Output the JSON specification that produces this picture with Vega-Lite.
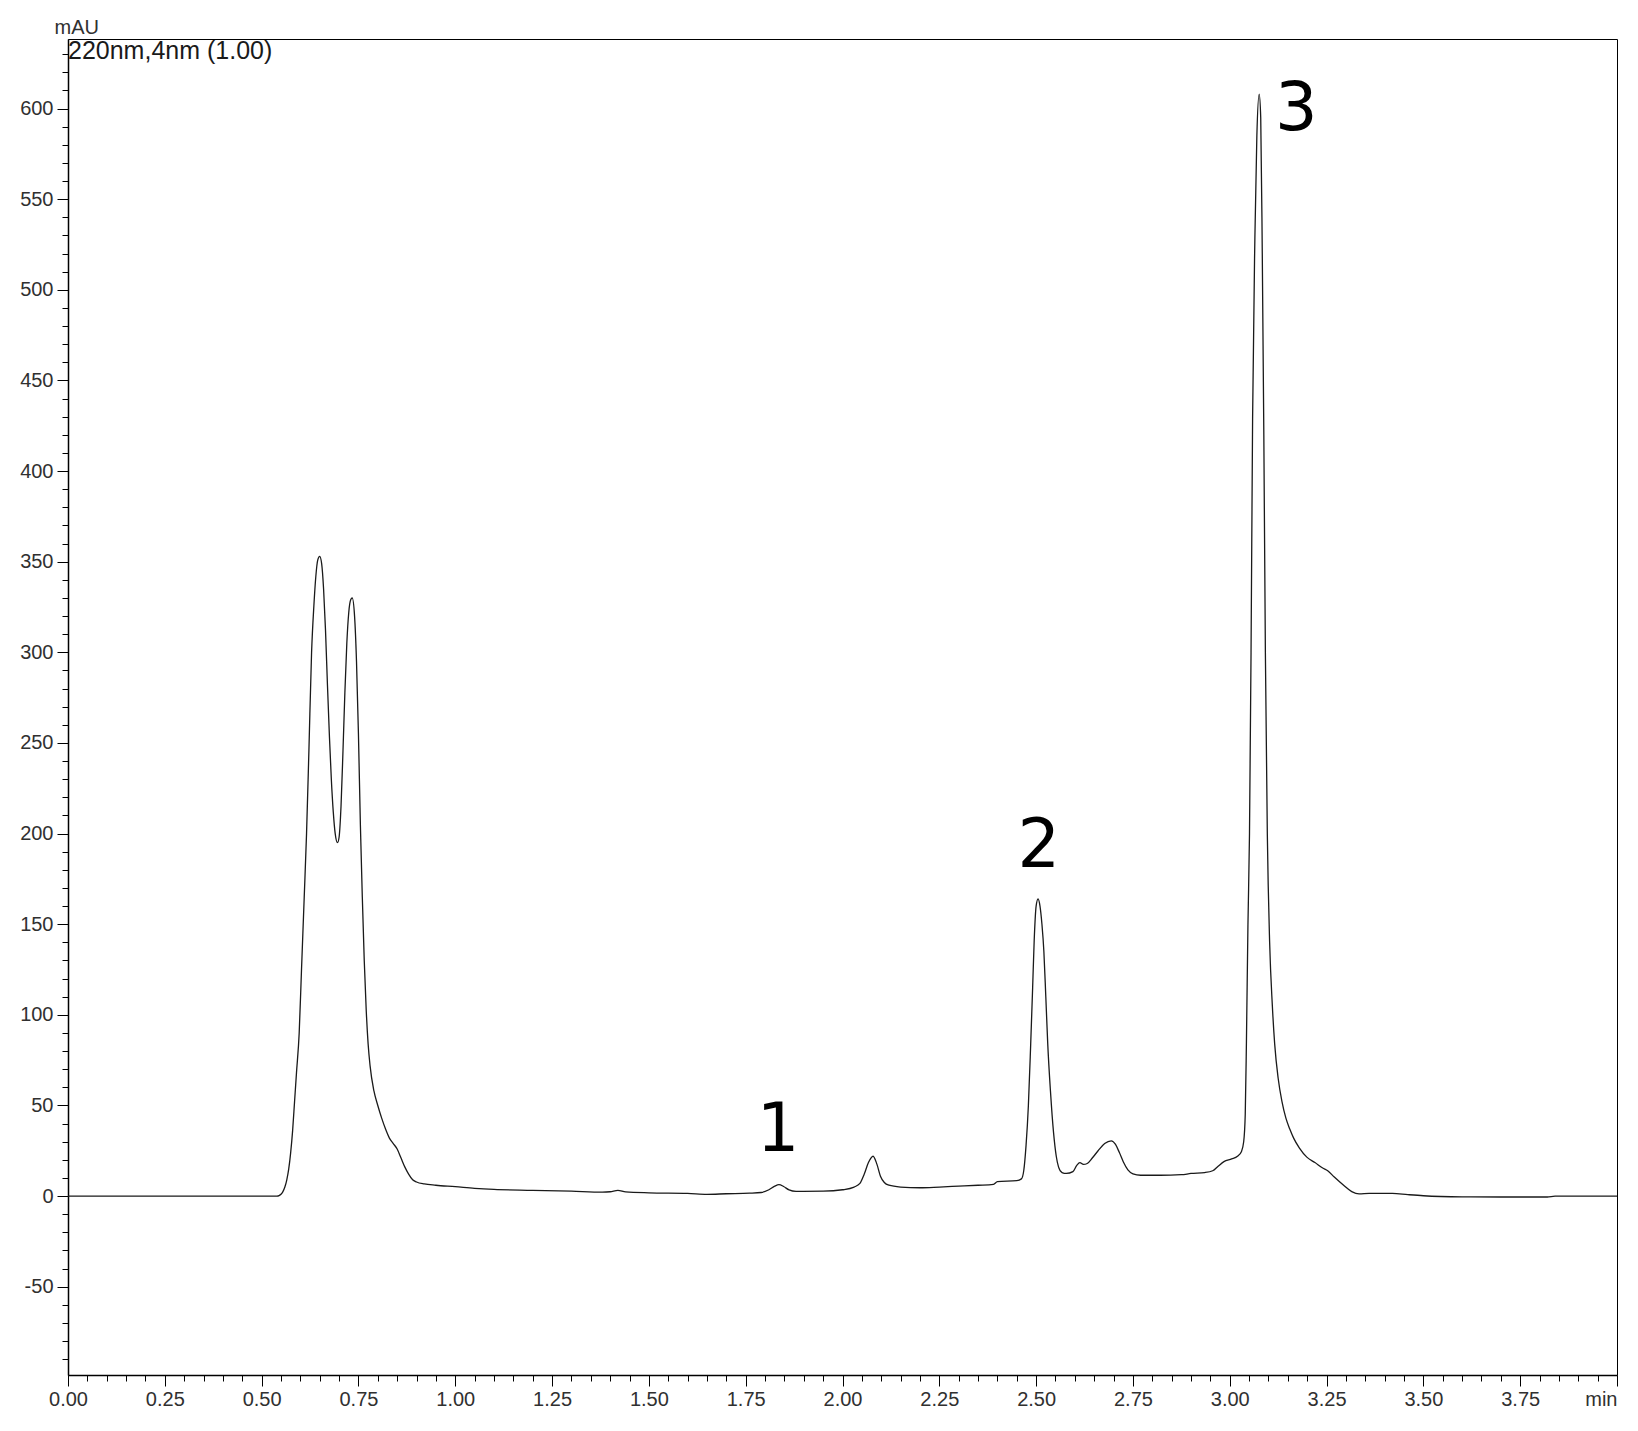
{
  "$schema": "https://vega.github.io/schema/vega-lite/v6.json",
  "width": 1549,
  "height": 1336,
  "autosize": {"type": "none"},
  "padding": {"left": 68, "top": 39, "right": 21, "bottom": 56},
  "background": "white",
  "config": {
    "view": {"stroke": "black", "strokeWidth": 1},
    "axis": {
      "grid": false,
      "domainColor": "black",
      "domainWidth": 1.5,
      "tickColor": "black",
      "tickWidth": 1,
      "labelFont": "Liberation Sans",
      "labelFontSize": 20,
      "labelColor": "#303030",
      "labelOverlap": false,
      "labelFlush": false,
      "titleFont": "Liberation Sans",
      "titleFontWeight": "normal",
      "titleFontSize": 20,
      "titleColor": "#303030"
    }
  },
  "datasets": {
    "trace": [
      {"t": 0, "y": 0}, {"t": 0.1, "y": 0}, {"t": 0.2, "y": 0}, {"t": 0.3, "y": 0}, {"t": 0.4, "y": 0}, {"t": 0.5, "y": 0}, {"t": 0.54, "y": 0},
      {"t": 0.545, "y": 0.3}, {"t": 0.55, "y": 1}, {"t": 0.555, "y": 2.5}, {"t": 0.56, "y": 5}, {"t": 0.565, "y": 9}, {"t": 0.57, "y": 15},
      {"t": 0.575, "y": 24}, {"t": 0.58, "y": 36}, {"t": 0.585, "y": 52}, {"t": 0.59, "y": 68}, {"t": 0.597, "y": 90}, {"t": 0.603, "y": 125},
      {"t": 0.61, "y": 165}, {"t": 0.616, "y": 200}, {"t": 0.622, "y": 245}, {"t": 0.629, "y": 300}, {"t": 0.635, "y": 326}, {"t": 0.64, "y": 342},
      {"t": 0.645, "y": 351}, {"t": 0.65, "y": 353}, {"t": 0.655, "y": 349}, {"t": 0.66, "y": 335}, {"t": 0.665, "y": 312}, {"t": 0.67, "y": 282},
      {"t": 0.675, "y": 254}, {"t": 0.68, "y": 230}, {"t": 0.685, "y": 212}, {"t": 0.69, "y": 200}, {"t": 0.696, "y": 195}, {"t": 0.70, "y": 198},
      {"t": 0.705, "y": 215}, {"t": 0.71, "y": 245}, {"t": 0.715, "y": 278}, {"t": 0.72, "y": 305}, {"t": 0.725, "y": 322}, {"t": 0.73, "y": 329},
      {"t": 0.734, "y": 330}, {"t": 0.74, "y": 320}, {"t": 0.745, "y": 295}, {"t": 0.75, "y": 255}, {"t": 0.755, "y": 205}, {"t": 0.76, "y": 165},
      {"t": 0.765, "y": 130}, {"t": 0.77, "y": 103}, {"t": 0.775, "y": 84}, {"t": 0.78, "y": 72}, {"t": 0.79, "y": 58}, {"t": 0.80, "y": 50},
      {"t": 0.81, "y": 43}, {"t": 0.82, "y": 37}, {"t": 0.83, "y": 32}, {"t": 0.84, "y": 29}, {"t": 0.85, "y": 26}, {"t": 0.86, "y": 21},
      {"t": 0.87, "y": 16}, {"t": 0.88, "y": 12}, {"t": 0.89, "y": 9}, {"t": 0.90, "y": 7.8}, {"t": 0.92, "y": 6.7}, {"t": 0.95, "y": 6},
      {"t": 1.00, "y": 5.2}, {"t": 1.05, "y": 4.3}, {"t": 1.10, "y": 3.7}, {"t": 1.20, "y": 3.2}, {"t": 1.30, "y": 2.7}, {"t": 1.38, "y": 2.2},
      {"t": 1.40, "y": 2.4}, {"t": 1.42, "y": 3.2}, {"t": 1.44, "y": 2.3}, {"t": 1.50, "y": 1.8}, {"t": 1.60, "y": 1.5}, {"t": 1.65, "y": 1},
      {"t": 1.70, "y": 1.3}, {"t": 1.76, "y": 1.6}, {"t": 1.79, "y": 2}, {"t": 1.81, "y": 3.5}, {"t": 1.825, "y": 5.5}, {"t": 1.836, "y": 6.3},
      {"t": 1.848, "y": 5.3}, {"t": 1.862, "y": 3.4}, {"t": 1.88, "y": 2.6}, {"t": 1.95, "y": 2.7}, {"t": 2.00, "y": 3.5}, {"t": 2.03, "y": 5},
      {"t": 2.045, "y": 7}, {"t": 2.056, "y": 12}, {"t": 2.067, "y": 18.5}, {"t": 2.079, "y": 22}, {"t": 2.089, "y": 17.5}, {"t": 2.098, "y": 11},
      {"t": 2.108, "y": 7.5}, {"t": 2.12, "y": 6}, {"t": 2.15, "y": 5}, {"t": 2.20, "y": 4.6}, {"t": 2.25, "y": 5}, {"t": 2.30, "y": 5.5},
      {"t": 2.35, "y": 6}, {"t": 2.39, "y": 6.5}, {"t": 2.40, "y": 8}, {"t": 2.45, "y": 8.5}, {"t": 2.462, "y": 9.5}, {"t": 2.468, "y": 14},
      {"t": 2.474, "y": 28}, {"t": 2.48, "y": 50}, {"t": 2.486, "y": 84}, {"t": 2.491, "y": 115}, {"t": 2.495, "y": 141}, {"t": 2.50, "y": 160},
      {"t": 2.505, "y": 164}, {"t": 2.51, "y": 160}, {"t": 2.515, "y": 150}, {"t": 2.52, "y": 135}, {"t": 2.525, "y": 110}, {"t": 2.53, "y": 84},
      {"t": 2.537, "y": 58}, {"t": 2.545, "y": 35}, {"t": 2.552, "y": 22}, {"t": 2.558, "y": 16}, {"t": 2.567, "y": 13}, {"t": 2.578, "y": 12.5},
      {"t": 2.595, "y": 13.5}, {"t": 2.605, "y": 17}, {"t": 2.613, "y": 18.5}, {"t": 2.622, "y": 17.5}, {"t": 2.632, "y": 18}, {"t": 2.645, "y": 21},
      {"t": 2.66, "y": 25}, {"t": 2.677, "y": 29}, {"t": 2.694, "y": 30.5}, {"t": 2.705, "y": 28.5}, {"t": 2.715, "y": 24}, {"t": 2.725, "y": 19},
      {"t": 2.737, "y": 14.5}, {"t": 2.75, "y": 12.3}, {"t": 2.77, "y": 11.5}, {"t": 2.82, "y": 11.5}, {"t": 2.875, "y": 11.8}, {"t": 2.90, "y": 12.5},
      {"t": 2.935, "y": 13}, {"t": 2.956, "y": 14}, {"t": 2.97, "y": 16.5}, {"t": 2.985, "y": 19}, {"t": 3.005, "y": 20.5}, {"t": 3.02, "y": 22},
      {"t": 3.03, "y": 24.5}, {"t": 3.036, "y": 30}, {"t": 3.04, "y": 45}, {"t": 3.043, "y": 84}, {"t": 3.047, "y": 150}, {"t": 3.051, "y": 200},
      {"t": 3.055, "y": 300}, {"t": 3.059, "y": 429}, {"t": 3.065, "y": 530}, {"t": 3.07, "y": 585}, {"t": 3.076, "y": 608}, {"t": 3.08, "y": 595},
      {"t": 3.084, "y": 520}, {"t": 3.088, "y": 420}, {"t": 3.092, "y": 300}, {"t": 3.097, "y": 200}, {"t": 3.103, "y": 140}, {"t": 3.11, "y": 105},
      {"t": 3.116, "y": 84}, {"t": 3.125, "y": 65}, {"t": 3.135, "y": 52}, {"t": 3.145, "y": 43}, {"t": 3.155, "y": 37}, {"t": 3.165, "y": 32},
      {"t": 3.18, "y": 26.5}, {"t": 3.199, "y": 21.5}, {"t": 3.22, "y": 18.5}, {"t": 3.24, "y": 15.5}, {"t": 3.253, "y": 14}, {"t": 3.27, "y": 10.5},
      {"t": 3.294, "y": 6}, {"t": 3.315, "y": 2.5}, {"t": 3.334, "y": 1.2}, {"t": 3.36, "y": 1.5}, {"t": 3.42, "y": 1.5}, {"t": 3.46, "y": 0.8},
      {"t": 3.5, "y": 0.2}, {"t": 3.6, "y": -0.4}, {"t": 3.7, "y": -0.5}, {"t": 3.82, "y": -0.5}, {"t": 3.84, "y": 0}, {"t": 3.92, "y": 0},
      {"t": 4.0, "y": 0}
    ],
    "peaks": [
      {"t": 1.8335, "y": 24.9, "label": "1"},
      {"t": 2.507, "y": 181.5, "label": "2"},
      {"t": 3.172, "y": 588.4, "label": "3"}
    ],
    "notes": [
      {"t": 0, "y": 627.2, "label": "220nm,4nm (1.00)"}
    ]
  },
  "encoding": {
    "x": {
      "field": "t",
      "type": "quantitative",
      "scale": {"domain": [0, 4], "nice": false, "zero": false},
      "axis": {
        "title": null,
        "values": [0,0.05,0.1,0.15,0.2,0.25,0.3,0.35,0.4,0.45,0.5,0.55,0.6,0.65,0.7,0.75,0.8,0.85,0.9,0.95,1,1.05,1.1,1.15,1.2,1.25,1.3,1.35,1.4,1.45,1.5,1.55,1.6,1.65,1.7,1.75,1.8,1.85,1.9,1.95,2,2.05,2.1,2.15,2.2,2.25,2.3,2.35,2.4,2.45,2.5,2.55,2.6,2.65,2.7,2.75,2.8,2.85,2.9,2.95,3,3.05,3.1,3.15,3.2,3.25,3.3,3.35,3.4,3.45,3.5,3.55,3.6,3.65,3.7,3.75,3.8,3.85,3.9,3.95,4],
        "tickSize": {"condition": {"test": "abs(datum.value*4 - round(datum.value*4)) < 0.001", "value": 11}, "value": 6},
        "labelExpr": "abs(datum.value*4 - round(datum.value*4)) < 0.001 ? (datum.value > 3.99 ? 'min' : format(datum.value, '.2f')) : ''",
        "labelAlign": {"condition": {"test": "datum.value > 3.99", "value": "right"}, "value": "center"},
        "labelPadding": 3
      }
    },
    "y": {
      "field": "y",
      "type": "quantitative",
      "scale": {"domain": [-98.7, 638.4], "nice": false, "zero": false},
      "axis": {
        "title": "mAU",
        "titleAngle": 0,
        "titleX": -14,
        "titleY": -6,
        "titleAlign": "left",
        "titleBaseline": "alphabetic",
        "values": [-90,-80,-70,-60,-50,-40,-30,-20,-10,0,10,20,30,40,50,60,70,80,90,100,110,120,130,140,150,160,170,180,190,200,210,220,230,240,250,260,270,280,290,300,310,320,330,340,350,360,370,380,390,400,410,420,430,440,450,460,470,480,490,500,510,520,530,540,550,560,570,580,590,600,610,620,630],
        "tickSize": {"condition": {"test": "datum.value % 50 === 0", "value": 11}, "value": 6},
        "labelExpr": "datum.value % 50 === 0 ? ('' + datum.value) : ''",
        "labelPadding": 4
      }
    }
  },
  "layer": [
    {
      "data": {"name": "trace"},
      "mark": {"type": "line", "color": "#1a1a1a", "strokeWidth": 1.3, "interpolate": "monotone"}
    },
    {
      "data": {"name": "peaks"},
      "mark": {"type": "text", "font": "DejaVu Sans", "fontSize": 67, "color": "black", "align": "center", "baseline": "alphabetic"},
      "encoding": {"text": {"field": "label"}}
    },
    {
      "data": {"name": "notes"},
      "mark": {"type": "text", "font": "Liberation Sans", "fontSize": 25, "color": "#1a1a1a", "align": "left", "baseline": "alphabetic"},
      "encoding": {"text": {"field": "label"}}
    }
  ]
}
